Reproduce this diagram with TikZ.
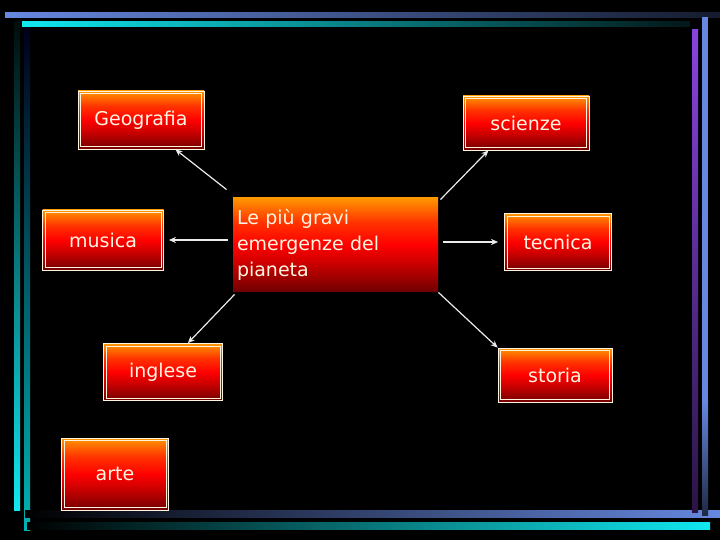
\documentclass[tikz,border=0pt]{standalone}
\usepackage{fontspec}
\setmainfont{DejaVu Sans}
\usetikzlibrary{arrows.meta}
\definecolor{cream}{HTML}{FFF4E0}
\definecolor{barblue}{HTML}{6688E0}
\definecolor{barcyan}{HTML}{10E8F0}
\definecolor{barpurple}{HTML}{8844E0}
\pgfdeclareverticalshading{fireshade}{100bp}{color(0bp)=(red!45!black); color(25bp)=(red!45!black); color(40bp)=(red!80!black); color(50bp)=(red); color(62bp)=(red!60!orange); color(72bp)=(orange); color(85bp)=(yellow!80!orange); color(100bp)=(yellow!85!orange)}
\begin{document}
\begin{tikzpicture}[x=1pt,y=-1pt,
  box/.style={draw=cream,line width=0.8pt,shading=fireshade,
    text=cream,font=\fontsize{19}{22}\selectfont,inner sep=0pt},
  arr/.style={draw=white!92!black,line width=1.2pt,-{Stealth[length=7pt,width=6pt]}}]
\useasboundingbox (0,0) rectangle (720,540);
\fill[black] (0,0) rectangle (720,540);
% frame bars
\shade[left color=barblue,right color=barblue!20!black] (5,13) rectangle (720,18);
\shade[left color=barcyan,right color=barcyan!10!black] (22,22) rectangle (690,27);
\shade[top color=black!90!teal,bottom color=barcyan] (14,22) rectangle (20,510);
\shade[top color=black!90!blue,bottom color=teal!60!cyan] (24,28) rectangle (30,530);
\shade[left color=black,right color=barblue] (25,510) rectangle (720,517);
\shade[left color=black,right color=barcyan] (27,522) rectangle (710,529);
\shade[top color=barpurple,bottom color=barpurple!30!black] (692,30) rectangle (698,512);
\fill[barblue] (702,17) rectangle (708,500);
\shade[top color=barblue,bottom color=barblue!30!black] (702,400) rectangle (708,515);
% nodes
\node[box,minimum width=126pt,minimum height=58pt] (geo) at (141,120) {Geografia};
\node[box,minimum width=126pt,minimum height=54pt] (sci) at (526,123) {scienze};
\node[box,minimum width=121pt,minimum height=60pt] (mus) at (103,240) {musica};
\node[box,minimum width=107pt,minimum height=57pt] (tec) at (558,242) {tecnica};
\node[box,minimum width=119pt,minimum height=57pt] (ing) at (163,372) {inglese};
\node[box,minimum width=114pt,minimum height=54pt] (sto) at (555,375) {storia};
\node[box,minimum width=107pt,minimum height=72pt] (art) at (115,474) {arte};
\node[box,draw=none,minimum width=205pt,minimum height=93pt,text width=197pt,align=left,
  font=\fontsize{19}{26}\selectfont] (c) at (335.5,244.5) {Le più gravi\\emergenze del\\pianeta};
% inner bevels
\foreach \n in {geo,sci,mus,tec,ing,sto,art}{
  \draw[cream,line width=0.4pt] ([shift={(3,-3)}]\n.south west) rectangle ([shift={(-3,3)}]\n.north east);
}
% connectors
\draw[arr] ([shift={(-6,-8)}]c.north west) -- ([xshift=-29pt]geo.south east);
\draw[arr] ([shift={(2,2)}]c.north east) -- ([xshift=-101pt]sci.south east);
\draw[arr] ([xshift=-5pt]c.west |- mus.east) -- ([xshift=5pt]mus.east);
\draw[arr] ([xshift=5pt]c.east |- tec.west) -- ([xshift=-6pt]tec.west);
\draw[arr] ([shift={(2,3)}]c.south west) -- ([xshift=-35pt]ing.north east);
\draw[arr] ([shift={(0,1)}]c.south east) -- (sto.north west);
\end{tikzpicture}
\end{document}
